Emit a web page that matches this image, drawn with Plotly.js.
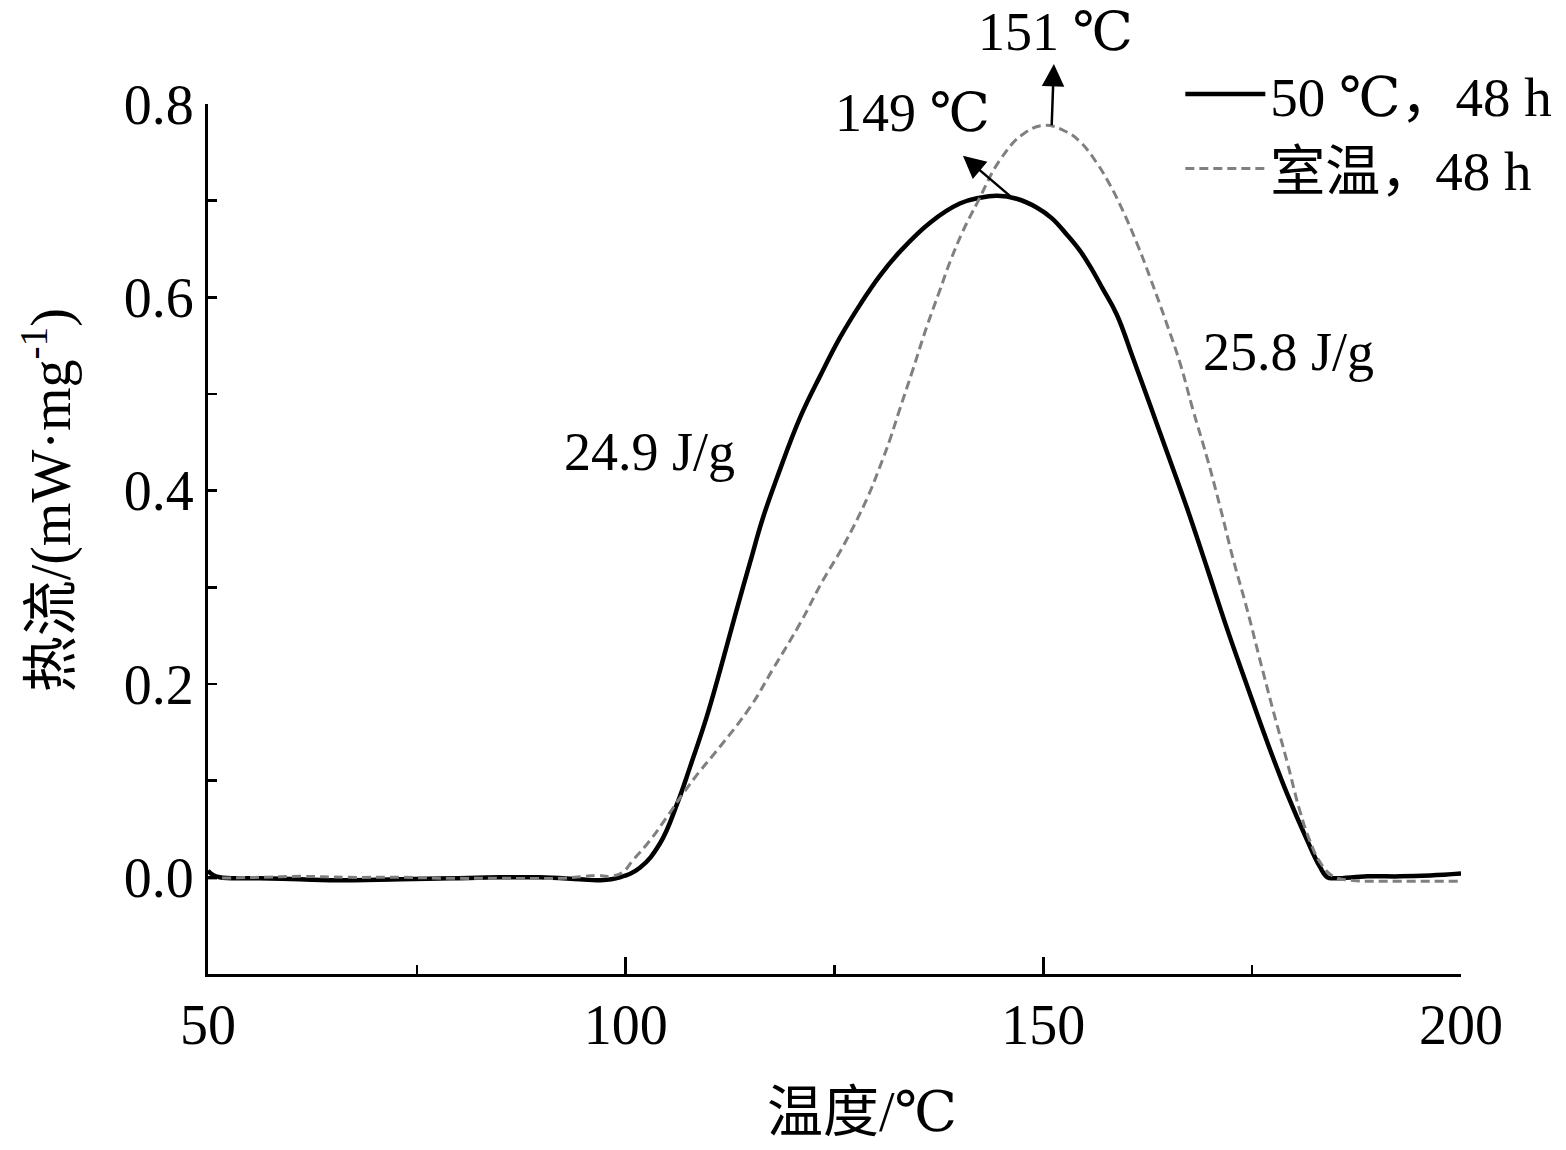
<!DOCTYPE html>
<html>
<head>
<meta charset="utf-8">
<script src="https://cdn.plot.ly/plotly-3.0.1.min.js"></script>
<style>html,body{margin:0;padding:0;background:#fff;}#chart{width:1566px;height:1150px;}</style>
</head>
<body>
<div id="chart"></div>
<script>
// Temperature (°C) and heat flow (mW/mg)
var tempSolid = [50, 50.5, 51.4, 56.2, 61.0, 64.6, 73.0, 79.0, 85.0, 89.7, 94.5, 96.9, 99.3, 101.7, 104.1, 106.2, 107.7, 109.7, 111.3, 113.1, 114.9, 116.4, 118.1, 120.9, 123.3, 125.7, 128.1, 130.4, 132.8, 136.4, 140.0, 142.4, 144.5, 146.8, 149.2, 151.0, 152.8, 154.4, 155.6, 157.1, 158.8, 160.7, 162.8, 164.8, 167.2, 169.6, 172.0, 174.4, 176.8, 179.2, 181.6, 183.1, 184.0, 184.9, 188.8, 192.7, 196.3, 200];
var flowSolid = [0.007, 0.003, 0.0, -0.001, -0.002, -0.003, -0.002, -0.001, 0.0, 0.0, -0.002, -0.003, 0.0, 0.010, 0.035, 0.077, 0.114, 0.166, 0.214, 0.271, 0.326, 0.371, 0.413, 0.476, 0.519, 0.559, 0.593, 0.622, 0.647, 0.677, 0.697, 0.703, 0.705, 0.702, 0.693, 0.682, 0.665, 0.648, 0.632, 0.609, 0.582, 0.538, 0.488, 0.440, 0.382, 0.320, 0.257, 0.198, 0.140, 0.086, 0.038, 0.011, 0.0, -0.001, 0.001, 0.001, 0.002, 0.004];

var tempDash = [50, 56.2, 61.0, 67.0, 73.0, 79.0, 85.0, 92.1, 95.1, 96.7, 98.1, 99.6, 100.9, 102.9, 104.9, 106.9, 108.9, 110.9, 114.9, 117.6, 120.9, 123.6, 126.0, 128.9, 130.4, 131.6, 132.8, 134.3, 136.1, 137.6, 138.8, 140.4, 142.1, 144.8, 147.6, 150.2, 152.8, 154.4, 156.4, 158.0, 159.5, 161.2, 162.8, 164.8, 166.4, 167.9, 169.6, 171.2, 172.7, 174.4, 175.9, 177.5, 179.2, 180.7, 181.9, 183.1, 184.7, 186.7, 192.7, 200];
var flowDash = [-0.001, 0.0, 0.001, 0.0, 0.0, -0.001, -0.001, -0.001, 0.001, 0.002, 0.001, 0.005, 0.018, 0.038, 0.062, 0.087, 0.110, 0.131, 0.176, 0.215, 0.263, 0.307, 0.342, 0.392, 0.424, 0.452, 0.484, 0.523, 0.571, 0.607, 0.636, 0.669, 0.698, 0.742, 0.769, 0.778, 0.771, 0.761, 0.739, 0.716, 0.690, 0.656, 0.620, 0.572, 0.531, 0.484, 0.434, 0.382, 0.330, 0.277, 0.226, 0.173, 0.119, 0.069, 0.038, 0.016, 0.001, -0.003, -0.004, -0.004];

var seriesNames = ["50 ℃，48 h", "室温，48 h"];
var peakLabels = ["151 ℃", "149 ℃"];
var enthalpyLabels = ["24.9 J/g", "25.8 J/g"];
var xTitle = "温度/℃";
var yTitle = "热流/(mW·mg<sup>-1</sup>)";
var yTickVals = [-0.1, 0.0, 0.1, 0.2, 0.3, 0.4, 0.5, 0.6, 0.7, 0.8];
var yTickText = ["", "0.0", "", "0.2", "", "0.4", "", "0.6", "", "0.8"];
var yMajorTicks = [0.0, 0.2, 0.4, 0.6, 0.8];

var FONT = "'Liberation Serif', 'Times New Roman', 'DejaVu Serif', 'Noto Sans CJK SC', serif";

function peakOf(xs, ys) {
  var k = 0;
  for (var i = 1; i < ys.length; i++) if (ys[i] > ys[k]) k = i;
  return {x: xs[k], y: ys[k]};
}
var pSolid = peakOf(tempSolid, flowSolid);
var pDash = peakOf(tempDash, flowDash);

var traces = [
  {x: tempSolid, y: flowSolid, name: seriesNames[0], type: 'scatter', mode: 'lines',
   line: {color: '#000000', width: 4.5, shape: 'spline', smoothing: 1.2}},
  {x: tempDash, y: flowDash, name: seriesNames[1], type: 'scatter', mode: 'lines',
   line: {color: '#808080', width: 3, dash: '9px,5px', shape: 'spline', smoothing: 1.2}}
];

var labelFont = {family: FONT, size: 54, color: '#000'};
var titleFont = {family: FONT, size: 56, color: '#000'};
var annotations = [
  // peak labels with arrows pointing from each curve's peak toward the text
  {x: pDash.x + 0.8, y: pDash.y, ax: 151.4, ay: 0.874, xref: 'x', yref: 'y', axref: 'x', ayref: 'y',
   text: peakLabels[0], font: labelFont, showarrow: true, arrowside: 'start', arrowhead: 2,
   startarrowhead: 2, startarrowsize: 1.8, arrowsize: 1.8, arrowwidth: 2.5, arrowcolor: '#000', startstandoff: 0},
  {x: pSolid.x + 1.5, y: pSolid.y, ax: 134.3, ay: 0.791, xref: 'x', yref: 'y', axref: 'x', ayref: 'y',
   text: peakLabels[1], font: labelFont, showarrow: true, arrowside: 'start', arrowhead: 2,
   startarrowhead: 2, startarrowsize: 1.8, arrowsize: 1.8, arrowwidth: 2.5, arrowcolor: '#000', startstandoff: 18},
  {x: 102.9, y: 0.44, xref: 'x', yref: 'y', text: enthalpyLabels[0], showarrow: false, font: labelFont},
  {x: 179.3, y: 0.543, xref: 'x', yref: 'y', text: enthalpyLabels[1], showarrow: false, font: labelFont},
  // axis titles
  {x: 0.522, y: -0.159, xref: 'paper', yref: 'paper', xanchor: 'center', yanchor: 'middle',
   text: xTitle, showarrow: false, font: titleFont},
  {x: -0.128, y: 0.544, xref: 'paper', yref: 'paper', xanchor: 'center', yanchor: 'middle',
   text: yTitle, textangle: -90, showarrow: false, font: titleFont}
];

var layout = {
  width: 1566, height: 1150,
  margin: {l: 208, r: 105, t: 104, b: 176, autoexpand: false},
  paper_bgcolor: '#fff', plot_bgcolor: '#fff',
  font: {family: FONT, size: 56, color: '#000'},
  showlegend: true,
  legend: {x: 0.776, y: 1.06, xanchor: 'left', yanchor: 'top', bgcolor: 'rgba(0,0,0,0)',
           font: {family: FONT, size: 55, color: '#000'}, tracegroupgap: 0, itemwidth: 80},
  xaxis: {
    range: [50, 200], tick0: 50, dtick: 50, tickformat: 'd', automargin: false,
    showgrid: false, zeroline: false, showline: true, linecolor: '#000', linewidth: 3,
    ticks: 'inside', ticklen: 17, tickwidth: 3, tickcolor: '#000',
    minor: {dtick: 25, ticks: 'inside', ticklen: 9, tickwidth: 2.5, tickcolor: '#000', showgrid: false},
    tickfont: {family: FONT, size: 56, color: '#000'}
  },
  yaxis: {
    range: [-0.1, 0.8], tickmode: 'array', tickvals: yTickVals, ticktext: yTickText, automargin: false,
    showgrid: false, zeroline: false, showline: true, linecolor: '#000', linewidth: 3,
    ticks: 'inside', ticklen: 9, tickwidth: 2.5, tickcolor: '#000',
    tickfont: {family: FONT, size: 56, color: '#000'}
  },
  yaxis2: {
    overlaying: 'y', anchor: 'x', side: 'left', range: [-0.1, 0.8], automargin: false,
    tickmode: 'array', tickvals: yMajorTicks, showticklabels: false,
    showgrid: false, zeroline: false, showline: false,
    ticks: 'inside', ticklen: 16, tickwidth: 2.5, tickcolor: '#000'
  },
  annotations: annotations
};

Plotly.newPlot('chart', traces, layout, {displayModeBar: false, staticPlot: true});
</script>
</body>
</html>
